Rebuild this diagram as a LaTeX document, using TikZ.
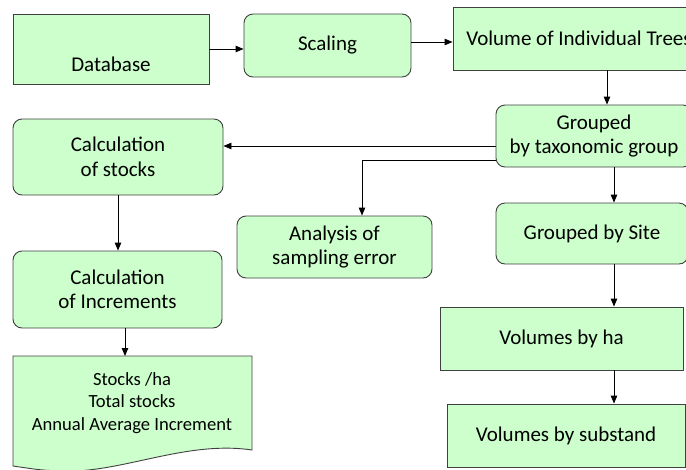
\documentclass[tikz,border=0pt]{standalone}
\usepackage{fontspec}
\setmainfont{Carlito}
\usetikzlibrary{arrows.meta}
\definecolor{FlowGreen}{HTML}{CCFFCC}
\definecolor{FlowEdge}{HTML}{404040}
\tikzset{
  boxsq/.style={draw=FlowEdge,fill=FlowGreen,line width=0.9pt,inner sep=0pt,align=center,font=\fontsize{21}{24.5}\selectfont},
  boxrnd/.style={boxsq,rounded corners=9pt},
  flow/.style={line width=0.9pt,-{Triangle[length=8pt,width=6.5pt]}}
}
\begin{document}
\begin{tikzpicture}[x=1pt,y=-1pt]
\path[use as bounding box] (0,0) rectangle (686,469);
\clip (0,0) rectangle (686,469);
% top row
\node[boxsq,minimum width=196pt,minimum height=70pt] (db) at (111,49) {\mbox{}\\[20pt]Database};
\node[boxrnd,minimum width=167pt,minimum height=63pt] (scl) at (327.5,45.5) {Scaling};
\node[boxsq,minimum width=252pt,minimum height=63pt] (vol) at (579,38.5) {Volume of Individual Trees};
% right column
\node[boxrnd,minimum width=196pt,minimum height=62pt] (grp) at (594,136) {Grouped\\by taxonomic group};
\node[boxrnd,minimum width=192pt,minimum height=61pt] (site) at (592,233.5) {Grouped by Site};
\node[boxsq,minimum width=243pt,minimum height=63pt] (ha) at (561.5,338.5) {Volumes by ha};
\node[boxsq,minimum width=238pt,minimum height=63pt] (sub) at (566,435.5) {Volumes by substand};
% left column
\node[boxrnd,minimum width=210pt,minimum height=76pt] (stk) at (118,157) {Calculation\\of stocks};
\node[boxrnd,minimum width=209pt,minimum height=77pt] (inc) at (117.5,289.5) {Calculation\\of Increments};
\node[boxrnd,minimum width=195pt,minimum height=62pt] (err) at (334.5,247) {Analysis of\\sampling error};
% output document
\path[draw=FlowEdge,fill=FlowGreen,line width=0.9pt] (13,356) -- (252,356) -- (252,450)
  .. controls (185,440) and (120,474) .. (60,471) .. controls (40,470) .. (13,466) -- cycle;
\node[align=center,font=\fontsize{18.6}{22.5}\selectfont] (doc) at (132,403) {Stocks /ha\\Total stocks\\Annual Average Increment};
\coordinate (docn) at (125,356);
% connectors
\draw[flow] (db.east |- 0,49) -- (scl.west |- 0,49);
\draw[flow] (scl.east |- 0,42) -- (vol.west |- 0,42);
\draw[flow] (vol.south -| 607,0) -- (grp.north -| 607,0);
\draw[flow] (grp.west |- 0,146) -- (stk.east |- 0,146);
\draw[flow] (grp.west |- 0,160) -- (362,160) -- (err.north -| 362,0);
\draw[flow] (grp.south -| 614,0) -- (site.north -| 614,0);
\draw[flow] (site.south -| 614,0) -- (ha.north -| 614,0);
\draw[flow] (ha.south -| 614,0) -- (sub.north -| 614,0);
\draw[flow] (stk.south) -- (inc.north -| stk.south);
\draw[flow] (inc.south -| docn) -- (docn);
\end{tikzpicture}
\end{document}
